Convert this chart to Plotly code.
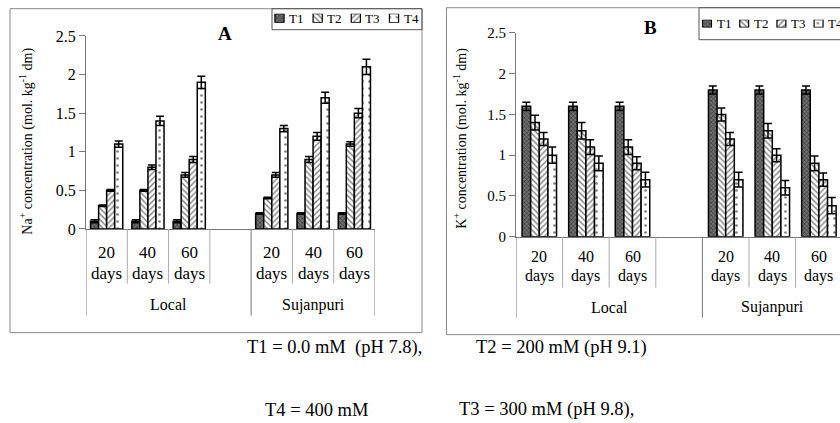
import plotly.graph_objects as go

# ---------------- data ----------------
genotypes = ["Local", "Sujanpuri"]
durations = ["20", "40", "60"]
treatments = ["T1", "T2", "T3", "T4"]
slot_keys = ["L20", "L40", "L60", "gap", "S20", "S40", "S60"]
bar_keys = ["L20", "L40", "L60", "S20", "S40", "S60"]

# Panel A: Na+ concentration
na_t1 = [0.10, 0.10, 0.10, 0.20, 0.20, 0.20]
na_t2 = [0.30, 0.50, 0.70, 0.40, 0.90, 1.10]
na_t3 = [0.50, 0.80, 0.90, 0.70, 1.20, 1.50]
na_t4 = [1.10, 1.40, 1.90, 1.30, 1.70, 2.10]
na_t1_err = [0.02, 0.02, 0.02, 0.01, 0.01, 0.01]
na_t2_err = [0.01, 0.01, 0.03, 0.01, 0.04, 0.03]
na_t3_err = [0.01, 0.03, 0.04, 0.03, 0.05, 0.06]
na_t4_err = [0.04, 0.06, 0.08, 0.04, 0.07, 0.10]

# Panel B: K+ concentration
k_t1 = [1.60, 1.60, 1.60, 1.80, 1.80, 1.80]
k_t2 = [1.40, 1.30, 1.10, 1.50, 1.30, 0.90]
k_t3 = [1.20, 1.10, 0.90, 1.20, 1.00, 0.70]
k_t4 = [1.00, 0.90, 0.70, 0.70, 0.60, 0.38]
k_t1_err = [0.05, 0.05, 0.05, 0.05, 0.05, 0.05]
k_t2_err = [0.09, 0.10, 0.09, 0.08, 0.09, 0.09]
k_t3_err = [0.08, 0.09, 0.08, 0.08, 0.08, 0.08]
k_t4_err = [0.10, 0.09, 0.09, 0.09, 0.09, 0.10]

y_ticks = [0, 0.5, 1, 1.5, 2, 2.5]
y_ticktext = ["0", "0.5", "1", "1.5", "2", "2.5"]

footnotes = ["T1 = 0.0 mM  (pH 7.8),", "T2 = 200 mM (pH 9.1)",
             "T4 = 400 mM", "T3 = 300 mM (pH 9.8),"]

# ---------------- style ----------------
W, H = 840, 423
FONT = "Liberation Serif"
GRAY = "#8a8a8a"
AX = "#777777"
# the photographed page comes out slightly squeezed vertically; compensate
V_SCALE, V_OFF = 0.960, 7.3

def px(x):
    return x / W

def py(y):
    return 1 - ((y - V_OFF) / V_SCALE) / H

patterns = [
    dict(shape="x", fgcolor="#111111", bgcolor="#6e6e6e", size=3, solidity=0.45),
    dict(shape="\\", fgcolor="#000000", bgcolor="#ffffff", size=4, solidity=0.35),
    dict(shape="/", fgcolor="#000000", bgcolor="#ffffff", size=4, solidity=0.35),
    dict(shape=".", fgcolor="#000000", bgcolor="#ffffff", size=7, solidity=0.12),
]

fig = go.Figure()

panels = [
    dict(xa="x", ya="y", vals=[na_t1, na_t2, na_t3, na_t4],
         errs=[na_t1_err, na_t2_err, na_t3_err, na_t4_err], w=0.195),
    dict(xa="x2", ya="y2", vals=[k_t1, k_t2, k_t3, k_t4],
         errs=[k_t1_err, k_t2_err, k_t3_err, k_t4_err], w=0.185),
]

for p in panels:
    for i, t in enumerate(treatments):
        fig.add_trace(go.Bar(
            x=bar_keys, y=p["vals"][i], name=t,
            xaxis=p["xa"], yaxis=p["ya"],
            width=p["w"], offset=(i - 2) * p["w"],
            marker=dict(pattern=patterns[i], line=dict(color="black", width=1.5)),
            error_y=dict(type="data", array=p["errs"][i], visible=True,
                         color="black", thickness=1.5, width=4),
            showlegend=False, hoverinfo="skip",
        ))

# legend swatches (drawn as tiny patterned bars on hidden axes)
for xa, ya in [("x3", "y3"), ("x4", "y4")]:
    for i, t in enumerate(treatments):
        fig.add_trace(go.Bar(
            x=[t], y=[1], xaxis=xa, yaxis=ya, width=0.24,
            marker=dict(pattern=patterns[i], line=dict(color="black", width=1.2)),
            showlegend=False, hoverinfo="skip",
        ))

# ---------------- layout geometry ----------------
A = dict(x0=86, x1=375, y0=228.3, y1=35.3)
B_slot = 46.6
B = dict(x0=516, x1=840, y0=236, y1=32.3)
B_range_right = -0.5 + (B["x1"] - B["x0"]) / B_slot

def yax(dom, anchor, fs):
    return dict(domain=dom, range=[0, 2.5], tickvals=y_ticks, ticktext=y_ticktext,
                showline=True, linecolor=AX, linewidth=1, ticks="outside",
                ticklen=6, tickcolor=AX, showgrid=False, zeroline=False,
                anchor=anchor,
                tickfont=dict(family=FONT, size=fs, color="black"), fixedrange=True)

def xax(dom, rng, anchor):
    return dict(domain=dom, type="category", categoryorder="array",
                categoryarray=slot_keys, range=rng, showline=True, linecolor=AX,
                linewidth=1, ticks="", showticklabels=False, showgrid=False,
                zeroline=False, anchor=anchor, fixedrange=True)

fig.update_layout(
    width=W, height=H, autosize=False,
    margin=dict(l=0, r=0, t=0, b=0, pad=0),
    paper_bgcolor="white", plot_bgcolor="rgba(0,0,0,0)",
    barmode="overlay", showlegend=False,
    font=dict(family=FONT, color="black"),
    xaxis=xax([px(A["x0"]), px(A["x1"])], [-0.5, 6.5], "y"),
    yaxis=yax([py(A["y0"]), py(A["y1"])], "x", 16),
    xaxis2=xax([px(B["x0"]), px(B["x1"])], [-0.5, B_range_right], "y2"),
    yaxis2=yax([py(B["y0"]), py(B["y1"])], "x2", 15),
    xaxis3=dict(domain=[px(260.4), px(413.1)], type="category", range=[-0.5, 3.5],
                categoryorder="array", categoryarray=treatments, visible=False,
                anchor="y3", fixedrange=True),
    yaxis3=dict(domain=[py(22), py(13)], range=[0, 1], visible=False,
                anchor="x3", fixedrange=True),
    xaxis4=dict(domain=[px(688.4), px(837.2)], type="category", range=[-0.5, 3.5],
                categoryorder="array", categoryarray=treatments, visible=False,
                anchor="y4", fixedrange=True),
    yaxis4=dict(domain=[py(26.7), py(19)], range=[0, 1], visible=False,
                anchor="x4", fixedrange=True),
)

shapes = []
ann = []

def note(**kw):
    base = dict(showarrow=False, xanchor="center", yanchor="middle")
    base.update(kw)
    ann.append(base)

# panel frames and legend boxes
shapes.append(dict(type="rect", xref="paper", yref="paper", x0=px(10), x1=px(422),
                   y0=py(332), y1=py(8), line=dict(color=GRAY, width=1)))
shapes.append(dict(type="rect", xref="paper", yref="paper", x0=px(446.5), x1=1.02,
                   y0=py(334), y1=py(7), line=dict(color=GRAY, width=1)))
shapes.append(dict(type="rect", xref="paper", yref="paper", x0=px(272), x1=px(422),
                   y0=py(29), y1=py(8), line=dict(color="#555555", width=1)))
shapes.append(dict(type="rect", xref="paper", yref="paper", x0=px(699), x1=1.02,
                   y0=py(39), y1=py(7), line=dict(color="#555555", width=1)))

# category separators (multi-level axis look)
for xa, y_zero, short_end, long_end in [("x", A["y0"], 283, 315), ("x2", B["y0"], 287, 317)]:
    for b in [0.5, 1.5, 2.5, 4.5, 5.5]:
        shapes.append(dict(type="line", xref=xa, yref="paper", x0=b, x1=b,
                           y0=py(y_zero), y1=py(short_end),
                           line=dict(color="#aaaaaa", width=1)))
    for b in [-0.5, 3.5, 6.5]:
        shapes.append(dict(type="line", xref=xa, yref="paper", x0=b, x1=b,
                           y0=py(y_zero), y1=py(long_end),
                           line=dict(color=AX, width=1)))

# category labels
label_cfg = [("x", 252, 273, 304, 17, 16), ("x2", 256, 275.5, 306.5, 16, 16)]
for xa, y_num, y_days, y_grp, fs, gfs in label_cfg:
    for gi, g in enumerate(genotypes):
        for di, d in enumerate(durations):
            key = bar_keys[gi * 3 + di]
            note(xref=xa, yref="paper", x=key, y=py(y_num), text=d,
                 font=dict(size=fs, family=FONT))
            note(xref=xa, yref="paper", x=key, y=py(y_days), text="days",
                 font=dict(size=fs, family=FONT))
    note(xref=xa, yref="paper", x=1.5, y=py(y_grp), text=genotypes[0],
         font=dict(size=gfs, family=FONT))
    note(xref=xa, yref="paper", x=5.0, y=py(y_grp), text=genotypes[1],
         font=dict(size=gfs, family=FONT))

# axis titles
note(xref="paper", yref="paper", x=px(27), y=py(141), textangle=-90,
     text="Na<sup>+</sup> concentration (mol. kg<sup>-1</sup> dm)",
     font=dict(size=14, family=FONT))
note(xref="paper", yref="paper", x=px(461), y=py(138), textangle=-90,
     text="K<sup>+</sup> concentration (mol. kg<sup>-1</sup> dm)",
     font=dict(size=14, family=FONT))

# panel letters
note(xref="paper", yref="paper", x=px(225), y=py(33), text="<b>A</b>",
     font=dict(size=19, family=FONT))
note(xref="paper", yref="paper", x=px(650), y=py(27), text="<b>B</b>",
     font=dict(size=19, family=FONT))

# legend labels
for xa, ycen in [("x3", 17.5), ("x4", 22.8)]:
    for t in treatments:
        note(xref=xa, yref="paper", x=t, y=py(ycen), text=t,
             xanchor="left", xshift=7.5, font=dict(size=13, family=FONT))

# footnotes
foot_pos = [(245, 347), (474, 347), (263, 409), (457, 409)]
for txt, (fx, fy) in zip(footnotes, foot_pos):
    note(xref="paper", yref="paper", x=px(fx), y=py(fy), text=txt,
         xanchor="left", font=dict(size=18.5, family=FONT))

fig.update_layout(shapes=shapes, annotations=ann)
fig.write_html(
    "out.html",
    config={"responsive": False, "displayModeBar": False},
    post_script=(
        "document.documentElement.style.margin='0';"
        "document.documentElement.style.padding='0';"
        "document.documentElement.style.overflow='hidden';"
        "document.body.style.margin='0';document.body.style.padding='0';"
        "document.body.style.overflow='hidden';"
    ),
)
